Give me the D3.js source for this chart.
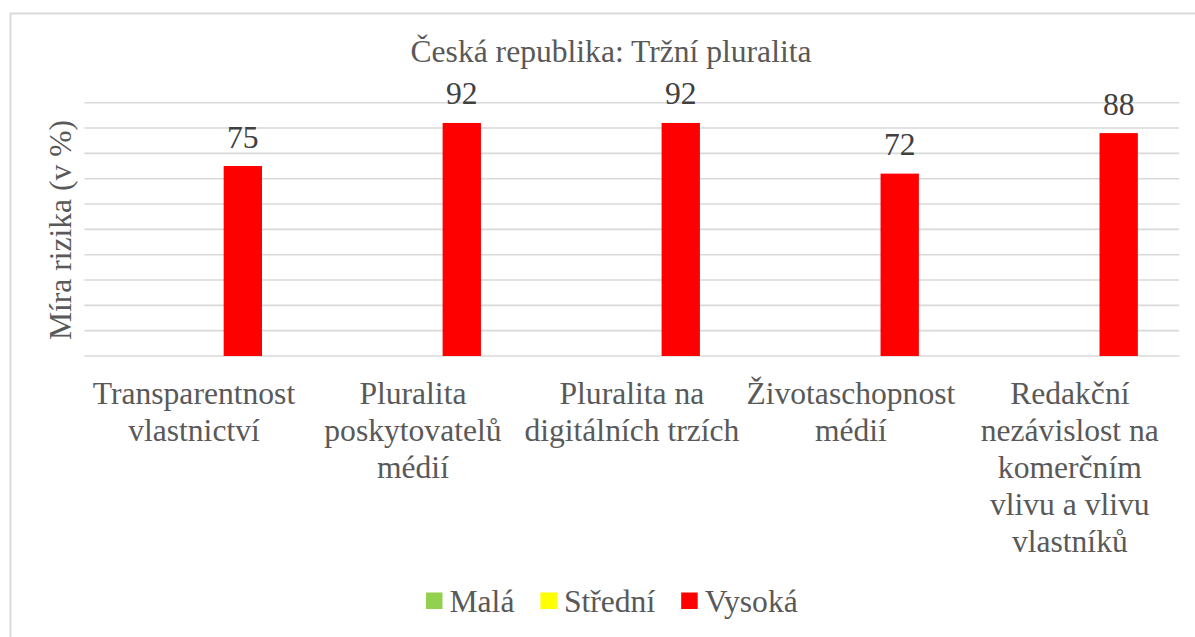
<!DOCTYPE html>
<html>
<head>
<meta charset="utf-8">
<script src="https://cdn.jsdelivr.net/npm/d3@7"></script>
</head>
<body style="margin:0">
<div id="chart"></div>
<script>
// categories, each split in the lines shown under the axis
const categories = [
    ["Transparentnost", "vlastnictví"],
    ["Pluralita", "poskytovatelů", "médií"],
    ["Pluralita na", "digitálních trzích"],
    ["Životaschopnost", "médií"],
    ["Redakční", "nezávislost na", "komerčním", "vlivu a vlivu", "vlastníků"]
];
const seriesNames = ["Malá", "Střední", "Vysoká"];
const seriesColors = ["#92D050", "#FFFF00", "#FF0000"];
// risk values per series (only "Vysoká" has values)
const malaValues = [null, null, null, null, null];
const stredniValues = [null, null, null, null, null];
const vysokaValues = [75, 92, 92, 72, 88];
const yTicks = [0, 10, 20, 30, 40, 50, 60, 70, 80, 90, 100];

const width = 1195, height = 637;
const plot = { left: 84.5, right: 1179.3, top: 102.7, bottom: 356 };

const svg = d3.select("#chart").append("svg")
    .attr("width", width)
    .attr("height", height);

function label(sel) {
    sel.attr("font-family", "Liberation Serif")
        .attr("font-size", 31.6)
        .attr("fill", "#595959")
        .style("font-family", "Liberation Serif");
}

// chart border
svg.append("rect")
    .attr("x", 10.5).attr("y", 13.5)
    .attr("width", width).attr("height", height)
    .attr("fill", "none")
    .attr("stroke", "#d9d9d9")
    .attr("stroke-width", 2);

const catIds = categories.map((d, i) => i);
const x0 = d3.scaleBand().domain(catIds).range([plot.left, plot.right]);
const x1 = d3.scaleBand().domain(seriesNames).range([62.5, 177.5]);
const y = d3.scaleLinear().domain([0, 100]).range([plot.bottom, plot.top]);

// gridlines
svg.append("g")
    .selectAll("line")
    .data(yTicks)
    .join("line")
    .attr("x1", plot.left).attr("x2", plot.right)
    .attr("y1", d => y(d)).attr("y2", d => y(d))
    .attr("stroke", "#d9d9d9")
    .attr("stroke-width", 1.6);

const seriesData = [malaValues, stredniValues, vysokaValues];
const bars = [];
seriesData.forEach((vals, s) => {
    vals.forEach((v, i) => {
        if (v != null) bars.push({ cat: i, series: seriesNames[s], color: seriesColors[s], value: v });
    });
});

svg.append("g")
    .selectAll("rect")
    .data(bars)
    .join("rect")
    .attr("x", d => x0(d.cat) + x1(d.series))
    .attr("y", d => y(d.value))
    .attr("width", x1.bandwidth())
    .attr("height", d => y(0) - y(d.value))
    .attr("fill", d => d.color);

// value labels
svg.append("g")
    .selectAll("text")
    .data(bars)
    .join("text")
    .call(label)
    .attr("fill", "#404040")
    .attr("x", d => x0(d.cat) + x1(d.series) + x1.bandwidth() / 2)
    .attr("y", d => y(d.value) - 18.5)
    .attr("text-anchor", "middle")
    .text(d => d.value);

// category labels
const catLabels = svg.append("g")
    .selectAll("text")
    .data(categories)
    .join("text")
    .call(label)
    .attr("text-anchor", "middle")
    .attr("y", 404);

catLabels.selectAll("tspan")
    .data((d, i) => d.map(line => ({ line, i })))
    .join("tspan")
    .attr("x", d => x0(d.i) + x0.bandwidth() / 2)
    .attr("dy", (d, j) => j === 0 ? 0 : 37)
    .text(d => d.line);

// title
svg.append("text")
    .call(label)
    .attr("x", 611)
    .attr("y", 62)
    .attr("text-anchor", "middle")
    .text("Česká republika: Tržní pluralita");

// y axis title
svg.append("text")
    .call(label)
    .attr("transform", "translate(71,230) rotate(-90)")
    .attr("text-anchor", "middle")
    .text("Míra rizika (v %)");

// legend
const legend = svg.append("g");
let lx = 426;
seriesNames.forEach((name, i) => {
    legend.append("rect")
        .attr("x", lx).attr("y", 592.5)
        .attr("width", 16.5).attr("height", 16.5)
        .attr("fill", seriesColors[i]);
    const t = legend.append("text")
        .call(label)
        .attr("x", lx + 23.5)
        .attr("y", 611.5)
        .text(name);
    lx += 23.5 + t.node().getComputedTextLength() + 26;
});
</script>
</body>
</html>
